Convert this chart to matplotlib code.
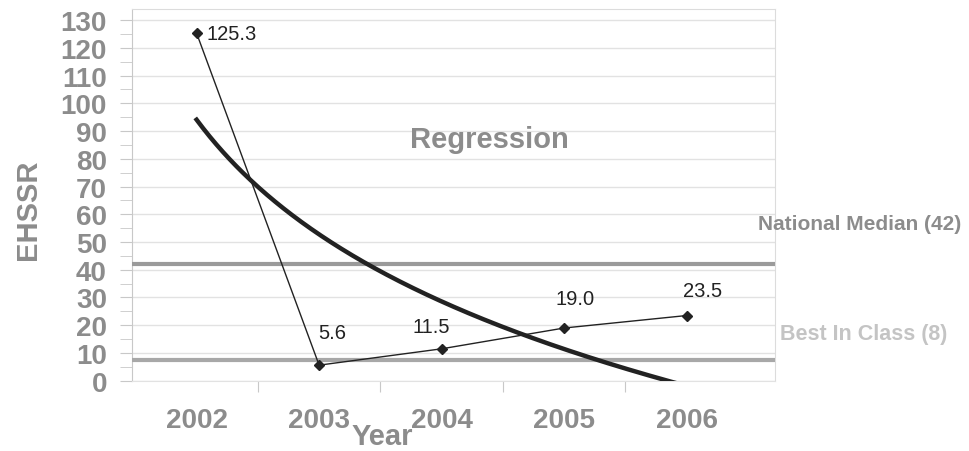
import numpy as np
import matplotlib
matplotlib.use('Agg')
from matplotlib import pyplot as plt
from matplotlib.ticker import MultipleLocator, FixedLocator

years = ['2002', '2003', '2004', '2005', '2006']
ehssr = [125.3, 5.6, 11.5, 19.0, 23.5]
value_labels = ['125.3', '5.6', '11.5', '19.0', '23.5']
national_median = 42
best_in_class = 7.5
best_in_class_label = 8

plt.rcParams['font.family'] = ['Liberation Sans', 'DejaVu Sans']

GREY = '#8c8c8c'
LIGHT = '#c4c4c4'

fig = plt.figure(figsize=(9.7, 4.52), dpi=100)
ax = fig.add_axes([132 / 970, 1 - 381.7 / 452, (775 - 132) / 970, (381.7 - 10) / 452])

x = np.arange(len(years))

# logarithmic regression fitted to the data (x = 1..5)
b, a = np.polyfit(np.log(x + 1), ehssr, 1)
xs = np.linspace(0, 4, 300)
ax.plot(xs, a + b * np.log(xs + 1), color='#222222', lw=3.2, zorder=4, clip_on=True)

ax.axhline(national_median, color='#9a9a9a', lw=3, zorder=3)
ax.axhline(best_in_class, color='#a8a8a8', lw=3, zorder=3)

ax.plot(x, ehssr, color='#222222', lw=1, marker='D', ms=5.5, zorder=5)

offsets = [(10, 0), (13, 33), (-10, 22), (11, 29), (16, 25)]
for xi, yi, lab, off in zip(x, ehssr, value_labels, offsets):
    ha = 'left' if off[1] == 0 else 'center'
    ax.annotate(lab, (xi, yi), xytext=off, textcoords='offset pixels',
                ha=ha, va='center', fontsize=14.5, color='#222222', zorder=6)

ax.text(2.39, 87, 'Regression', fontsize=21, fontweight='bold', color=GREY,
        ha='center', va='center')

ax.set_xlim(-0.527, 4.72)
ax.set_ylim(0, 134)

ax.yaxis.set_major_locator(MultipleLocator(10))
ax.yaxis.set_minor_locator(MultipleLocator(5))
ax.set_yticks(np.arange(0, 131, 10))
ax.grid(axis='y', which='major', color='#e2e2e2', lw=1, zorder=0)

ax.xaxis.set_major_locator(FixedLocator([0.5, 1.5, 2.5, 3.5]))
ax.xaxis.set_minor_locator(FixedLocator(x))
ax.set_xticklabels([], minor=False)
ax.set_xticklabels(years, minor=True)

ax.tick_params(axis='y', which='both', length=9, color='#c8c8c8', direction='out',
               labelsize=20, labelcolor=GREY, pad=9)
ax.tick_params(axis='x', which='major', length=8, color='#c8c8c8', direction='out')
ax.tick_params(axis='x', which='minor', length=0, labelsize=20, labelcolor=GREY, pad=19)
for lab in ax.get_yticklabels() + ax.get_xticklabels(minor=True):
    lab.set_fontweight('bold')

for side in ['top', 'right']:
    ax.spines[side].set_color('#dcdcdc')
ax.spines['left'].set_color('#c8c8c8')
ax.spines['bottom'].set_color('#e2e2e2')

fig.text(28 / 970, 1 - 210 / 452, 'EHSSR', rotation=90, fontsize=21, fontweight='bold',
         color=GREY, ha='center', va='center')
fig.text(382 / 970, 1 - 437 / 452, 'Year', fontsize=21, fontweight='bold',
         color=GREY, ha='center', va='center')
fig.text(860 / 970, 1 - 225 / 452, 'National Median (%d)' % national_median, fontsize=15,
         fontweight='bold', color=GREY, ha='center', va='center')
fig.text(864 / 970, 1 - 335 / 452, 'Best In Class (%d)' % best_in_class_label, fontsize=15.5,
         fontweight='bold', color=LIGHT, ha='center', va='center')

fig.savefig('out.png', dpi=100)
